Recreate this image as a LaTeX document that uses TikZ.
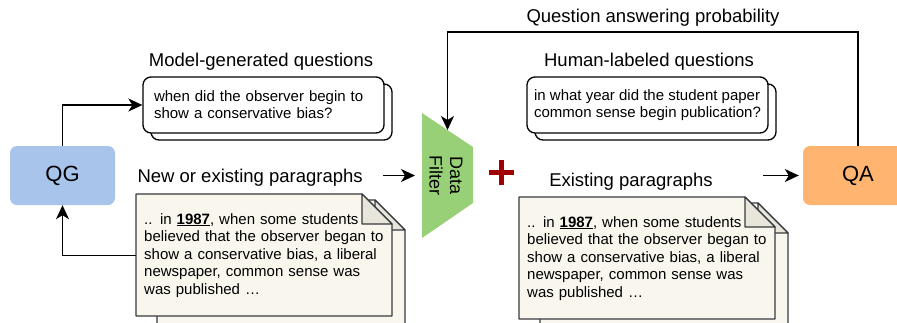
\documentclass[tikz,border=0pt]{standalone}
\usepackage{fontspec}
\setmainfont{Liberation Sans}
\usetikzlibrary{arrows.meta,calc,positioning,shadows}

\definecolor{qgblue}{HTML}{A9C4EB}
\definecolor{qaorange}{HTML}{FFB570}
\definecolor{filtergreen}{HTML}{97D077}
\definecolor{notefill}{HTML}{F9F7ED}
\definecolor{notefold}{HTML}{E8E6DA}
\definecolor{noteline}{HTML}{36393D}
\definecolor{plusred}{HTML}{A00000}

\tikzset{
  model/.style={rounded corners=7pt, minimum width=105pt, minimum height=59pt, font=\fontsize{22}{26}\selectfont},
  qbox/.style={draw, line width=1.3pt, rounded corners=8pt, fill=white, minimum width=241pt, minimum height=56pt,
    align=left, font=\fontsize{15}{17}\selectfont,
    copy shadow={shadow xshift=8pt, shadow yshift=-7pt, fill=white, draw=black, line width=1.3pt}},
  label/.style={font=\fontsize{18.5}{22}\selectfont},
  note/.style={draw=noteline, line width=1.2pt, fill=notefill, line join=round},
  notetext/.style={anchor=north west, minimum width=256pt, minimum height=122pt, inner xsep=8pt,
    text width=240pt, align=left, font=\fontsize{15}{17.5}\selectfont},
  conn/.style={line width=1.4pt, -{Stealth[length=14pt, width=13pt, inset=4pt]}},
}

\begin{document}
\begin{tikzpicture}[x=1pt, y=-1pt]
  \useasboundingbox (0,0) rectangle (897,322);

  % models
  \node[model, fill=qgblue] (qg) at (62.5,175.5) {QG};
  \node[model, fill=qaorange, minimum width=110pt] (qa) at (858,175.5) {QA};

  % data filter (long side on the left)
  \coordinate (f-tl) at (422,113);
  \coordinate (f-tr) at (473,147);
  \coordinate (f-br) at (473,203);
  \coordinate (f-bl) at (422,238);
  \fill[filtergreen] (f-tl) -- (f-tr) -- (f-br) -- (f-bl) -- cycle;
  \node[rotate=-90, align=center, inner sep=0pt, font=\fontsize{18}{20.5}\selectfont] (filter) at (446,175.5) {Data\\Filter};
  \coordinate (f-top) at ($(f-tl)!0.5!(f-tr)$);
  \coordinate (f-in) at ($(f-tl)!0.5!(f-bl)$);

  % plus sign
  \coordinate (plus) at (501.5,172.5);
  \draw[plusred, line width=5pt] (plus) ++(-12.5,0) -- ++(25,0) (plus) ++(0,-12.5) -- ++(0,25);

  % question boxes
  \node[qbox, inner xsep=11pt, text width=219pt] (genq) at (263.5,105) {when did the observer begin to\\show a conservative bias?};
  \node[qbox, inner xsep=4pt] (humq) at (647.5,105) {in what year did the student paper\\common sense begin publication?};

  % labels
  \node[label] (genlbl) at (261,62) {Model-generated questions};
  \node[label] (humlbl) at (649,62) {Human-labeled questions};
  \node[label] (qaprob) at (653,18) {Question answering probability};
  \node[label, anchor=west] (newpara) at (134,178) {New or existing paragraphs};
  \node[label] (oldpara) at (631,182) {Existing paragraphs};

  % paragraph sheets
  \foreach \px/\py in {136/194, 519/197} {
    % back sheet
    \draw[note] (\px+21,340) -- (\px+21,\py+6) -- (\px+239,\py+6) -- (\px+269,\py+36) -- (\px+269,340);
    \draw[note, fill=notefold] (\px+239,\py+6) -- (\px+239,\py+36) -- (\px+269,\py+36) -- cycle;
    % front sheet
    \draw[note] (\px,\py) -- (\px+226,\py) -- (\px+256,\py+30) -- (\px+256,\py+122) -- (\px,\py+122) -- cycle;
    \draw[note, fill=notefold] (\px+226,\py) -- (\px+226,\py+30) -- (\px+256,\py+30) -- cycle;
  }
  \node[notetext] (paraA) at (136,194) {.. in \underline{\textbf{1987}}, when some students\\believed that the observer began to\\show a conservative bias, a liberal\\newspaper, common sense was\\was published \dots};
  \node[notetext] (paraB) at (519,197) {.. in \underline{\textbf{1987}}, when some students\\believed that the observer began to\\show a conservative bias, a liberal\\newspaper, common sense was\\was published \dots};

  % connectors
  \draw[conn] (qg.north) |- (genq.west);
  \draw[conn] (paraA.west) -| (qg.south);
  \draw[conn, shorten >=7pt] ([xshift=-39pt]f-in) -- (f-in);
  \draw[conn] (qa.north) -- ++(0,-114) -| (f-top);
  \draw[conn, shorten >=4pt] ([xshift=-40pt]qa.west) -- (qa.west);
\end{tikzpicture}
\end{document}
